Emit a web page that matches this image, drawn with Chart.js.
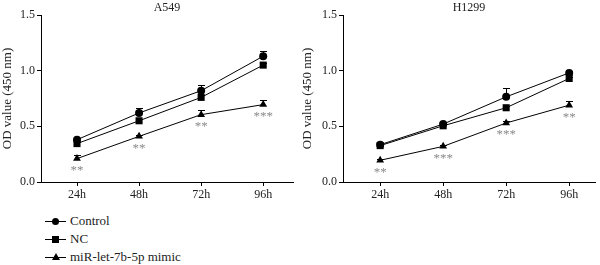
<!DOCTYPE html>
<html>
<head>
<meta charset="utf-8">
<script src="https://cdn.jsdelivr.net/npm/chart.js@4"></script>
<style>
  body { margin: 0; background: #fff; font-family: "Liberation Serif", serif; }
  #wrap { position: relative; width: 600px; height: 265px; }
  .panel { position: absolute; top: 0; width: 300px; height: 205px; }
  #legend { position: absolute; left: 45px; top: 212px; font-size: 13px; color: #222; }
  .item { position: relative; height: 18px; line-height: 18px; padding-left: 25px; }
  .item .ln { position: absolute; left: 0; top: 9px; width: 21px; border-top: 1px solid #000; }
  .item .mk { position: absolute; background: #000; }
  .mk.circle { left: 7px; top: 6px; width: 7px; height: 7px; border-radius: 50%; }
  .mk.square { left: 7px; top: 6px; width: 7px; height: 7px; }
  .mk.tri { left: 7px; top: 5px; width: 0; height: 0; background: none;
            border-left: 4px solid transparent; border-right: 4px solid transparent; border-bottom: 7px solid #000; }
</style>
</head>
<body>
<div id="wrap">
  <div class="panel" style="left:0"><canvas id="chartA549"></canvas></div>
  <div class="panel" style="left:300px"><canvas id="chartH1299"></canvas></div>
  <div id="legend">
    <div class="item"><span class="ln"></span><span class="mk circle"></span>Control</div>
    <div class="item"><span class="ln"></span><span class="mk square"></span>NC</div>
    <div class="item"><span class="ln"></span><span class="mk tri"></span>miR-let-7b-5p mimic</div>
  </div>
</div>
<script>
const timeLabels = ["24h", "48h", "72h", "96h"];
const timeIndex = [1, 2, 3, 4];

const a549Control = [0.38, 0.62, 0.82, 1.13];
const a549ControlErr = [0.015, 0.045, 0.055, 0.05];
const a549NC = [0.345, 0.55, 0.76, 1.05];
const a549NCErr = [0.01, 0.015, 0.02, 0.015];
const a549Mimic = [0.21, 0.41, 0.605, 0.695];
const a549MimicErr = [0.035, 0.01, 0.04, 0.045];
const a549Stars = ["**", "**", "**", "***"];

const h1299Control = [0.335, 0.52, 0.765, 0.98];
const h1299ControlErr = [0.01, 0.015, 0.075, 0.015];
const h1299NC = [0.327, 0.505, 0.667, 0.93];
const h1299NCErr = [0.01, 0.015, 0.015, 0.015];
const h1299Mimic = [0.195, 0.32, 0.53, 0.69];
const h1299MimicErr = [0.01, 0.01, 0.015, 0.04];
const h1299Stars = ["**", "***", "***", "**"];

const serif = "'Liberation Serif', serif";

// upper error bars, drawn under the markers
const errorBars = {
    id: "errorBars",
    beforeDatasetsDraw(chart) {
        const ctx = chart.ctx;
        const x = chart.scales.x, y = chart.scales.y;
        ctx.save();
        ctx.strokeStyle = "#000";
        ctx.lineWidth = 1;
        chart.data.datasets.forEach(ds => {
            ds.data.forEach((p, i) => {
                const px = Math.round(x.getPixelForValue(p.x)) + 0.5;
                const y0 = y.getPixelForValue(p.y);
                const y1 = Math.round(y.getPixelForValue(p.y + ds.err[i])) + 0.5;
                ctx.beginPath();
                ctx.moveTo(px, y0);
                ctx.lineTo(px, y1);
                ctx.moveTo(px - 3.5, y1);
                ctx.lineTo(px + 3.5, y1);
                ctx.stroke();
            });
        });
        ctx.restore();
    }
};

// significance stars under the mimic points + panel title
const annotations = {
    id: "annotations",
    afterDatasetsDraw(chart, args, opts) {
        const ctx = chart.ctx;
        const x = chart.scales.x, y = chart.scales.y;
        const ds = chart.data.datasets[2];
        ctx.save();
        ctx.fillStyle = "#8a8a8a";
        ctx.font = "13px " + serif;
        ctx.textAlign = "center";
        ctx.textBaseline = "middle";
        ds.data.forEach((p, i) => {
            ctx.fillText(opts.stars[i], x.getPixelForValue(p.x), y.getPixelForValue(p.y) + 12);
        });
        ctx.fillStyle = "#222";
        ctx.font = "12px " + serif;
        const area = chart.chartArea;
        ctx.fillText(opts.title, (area.left + area.right) / 2, 8);
        ctx.restore();
    }
};

function points(values) {
    return values.map((v, i) => ({ x: timeIndex[i], y: v }));
}

function makeChart(id, title, control, controlErr, nc, ncErr, mimic, mimicErr, stars, axisW, xMin, xMax, padRight) {
    const line = { borderColor: "#000", backgroundColor: "#000", borderWidth: 1, pointBorderWidth: 0 };
    new Chart(document.getElementById(id), {
        type: "line",
        data: {
            datasets: [
                { ...line, label: "Control", data: points(control), err: controlErr, pointStyle: "circle", pointRadius: 4 },
                { ...line, label: "NC", data: points(nc), err: ncErr, pointStyle: "rect", pointRadius: 5 },
                { ...line, label: "miR-let-7b-5p mimic", data: points(mimic), err: mimicErr, pointStyle: "triangle", pointRadius: 4.5 }
            ]
        },
        options: {
            responsive: false,
            animation: false,
            layout: { padding: { top: 15, right: padRight, left: 0, bottom: 0 } },
            plugins: {
                legend: { display: false },
                tooltip: { enabled: false },
                annotations: { title: title, stars: stars }
            },
            scales: {
                x: {
                    type: "linear",
                    min: xMin,
                    max: xMax,
                    afterBuildTicks: s => { s.ticks = timeIndex.map(v => ({ value: v })); },
                    afterFit: s => { s.height = 23; },
                    ticks: {
                        callback: (v, i) => timeLabels[i],
                        color: "#222",
                        font: { family: serif, size: 12 },
                        padding: 2,
                        maxRotation: 0
                    },
                    grid: { drawOnChartArea: false, tickLength: 4, color: "#000" },
                    border: { color: "#000", width: 1 }
                },
                y: {
                    min: 0,
                    max: 1.5,
                    afterFit: s => { s.width = axisW; },
                    ticks: {
                        stepSize: 0.5,
                        callback: v => v.toFixed(1),
                        color: "#222",
                        font: { family: serif, size: 12 },
                        padding: 2
                    },
                    title: {
                        display: true,
                        text: "OD value (450 nm)",
                        color: "#222",
                        font: { family: serif, size: 13 },
                        padding: 0
                    },
                    grid: { drawOnChartArea: false, tickLength: 4, color: "#000" },
                    border: { color: "#000", width: 1 }
                }
            }
        },
        plugins: [errorBars, annotations]
    });
}

function sizeCanvas(id) {
    const c = document.getElementById(id);
    c.width = 300;
    c.height = 205;
    c.style.width = "300px";
    c.style.height = "205px";
}
sizeCanvas("chartA549");
sizeCanvas("chartH1299");

makeChart("chartA549", "A549", a549Control, a549ControlErr, a549NC, a549NCErr, a549Mimic, a549MimicErr, a549Stars, 41, 0.42, 4.48, 7);
makeChart("chartH1299", "H1299", h1299Control, h1299ControlErr, h1299NC, h1299NCErr, h1299Mimic, h1299MimicErr, h1299Stars, 43, 0.41, 4.41, 5);
</script>
</body>
</html>
